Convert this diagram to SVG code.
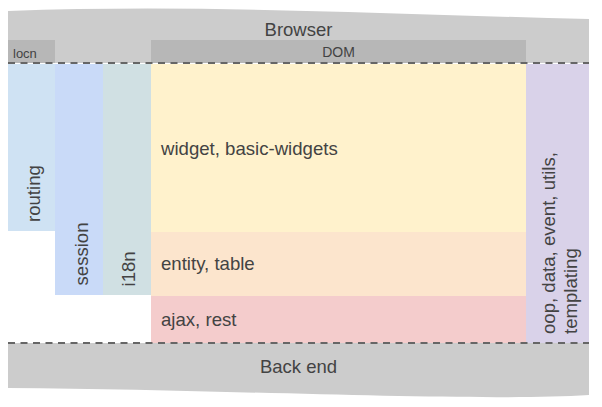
<svg xmlns="http://www.w3.org/2000/svg" width="602" height="407" viewBox="0 0 602 407">
<style>
text{font-family:"Liberation Sans",Arial,sans-serif;fill:#434343}
.big{font-size:18.5px}
.lbl{font-size:18.6px}
.sm{font-size:13px}
.dash{stroke:#666;stroke-width:2;stroke-dasharray:7 5.5;fill:none}
</style>
<rect width="602" height="407" fill="#fff"/>
<g id="browser">
<path d="M8,11 C200,4 380,14 589,19 L589,63 L8,63 Z" fill="#cccccc"/>
<text class="big" x="298.5" y="35.5" text-anchor="middle">Browser</text>
</g>
<g id="locn">
<rect x="8" y="40" width="47" height="23" fill="#b7b7b7"/>
<text class="sm" x="13" y="57.5">locn</text>
</g>
<g id="dom">
<rect x="151" y="40" width="375" height="23" fill="#b7b7b7"/>
<text class="sm" x="338.5" y="56.5" text-anchor="middle" style="font-size:14px">DOM</text>
</g>
<g id="routing">
<rect x="8" y="64" width="47" height="167" fill="#cfe2f3"/>
<text class="lbl" transform="translate(40,222) rotate(-90)">routing</text>
</g>
<g id="session">
<rect x="55" y="64" width="48" height="231" fill="#c9daf8"/>
<text class="lbl" transform="translate(87.5,285.5) rotate(-90)">session</text>
</g>
<g id="i18n">
<rect x="103" y="64" width="48" height="231" fill="#d0e0e3"/>
<text class="lbl" transform="translate(135,286.5) rotate(-90)">i18n</text>
</g>
<g id="widget">
<rect x="151" y="64" width="375" height="168" fill="#fff2cc"/>
<text class="lbl" x="161" y="154.5">widget, basic-widgets</text>
</g>
<g id="entity">
<rect x="151" y="232" width="375" height="64" fill="#fce5cd"/>
<text class="lbl" x="161" y="270">entity, table</text>
</g>
<g id="ajax">
<rect x="151" y="296" width="375" height="47" fill="#f4cccc"/>
<text class="lbl" x="161" y="326">ajax, rest</text>
</g>
<g id="utils">
<rect x="526" y="64" width="63" height="279" fill="#d9d2e9"/>
<text class="lbl" transform="translate(555,334) rotate(-90)">oop, data, event, utils,</text>
<text class="lbl" transform="translate(577,334) rotate(-90)">templating</text>
</g>
<g id="backend">
<path d="M8,343 L589,343 L589,395 C470,402 250,390 8,388 Z" fill="#cccccc"/>
<text class="big" x="298.5" y="373" text-anchor="middle">Back end</text>
</g>
<g id="connectors">
<line class="dash" x1="8" y1="63" x2="589" y2="63"/>
<line class="dash" x1="8" y1="343" x2="589" y2="343"/>
</g>
</svg>
